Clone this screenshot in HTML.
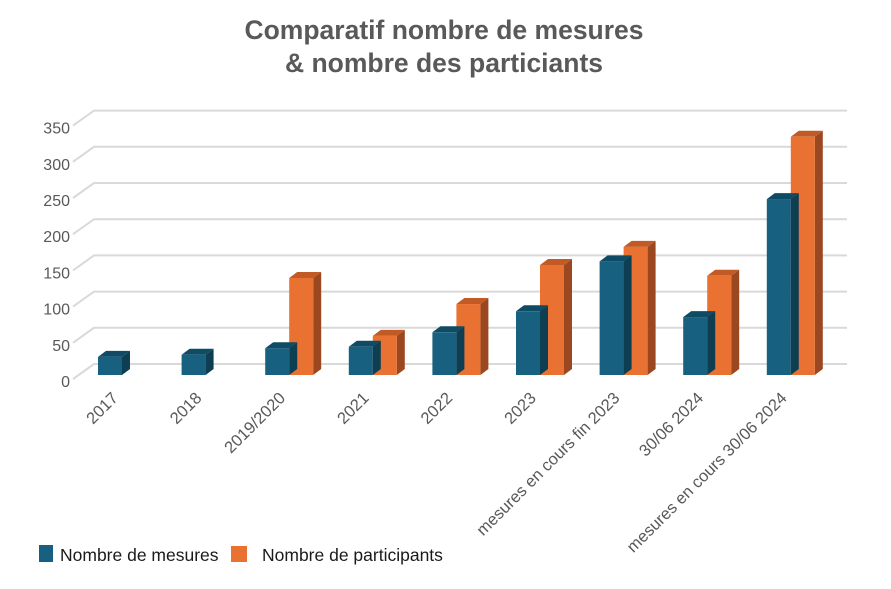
<!DOCTYPE html>
<html><head><meta charset="utf-8"><style>
body{margin:0;background:#fff;width:891px;height:584px;overflow:hidden;font-family:"Liberation Sans",sans-serif}
</style></head><body>
<svg id="c" width="891" height="584" xmlns="http://www.w3.org/2000/svg"></svg>
<script>
const categories=["2017","2018","2019/2020","2021","2022","2023","mesures en cours fin 2023","30/06 2024","mesures en cours 30/06 2024"];
const mesures=[25,28,37,39,59,88,157,80,243];
const participants=[null,null,134,54,98,152,177,137,329];
const ticks=[0,50,100,150,200,250,300,350];
const svg=document.getElementById('c');
const NS='http://www.w3.org/2000/svg';
function mk(t,a,p){const e=document.createElementNS(NS,t);for(const k in a)e.setAttribute(k,a[k]);(p||svg).appendChild(e);return e;}
const base=375, k=0.724, DX=21, DY=15, backBase=364;
function y(v){return base-v*k;}
function yb(v){return backBase-v*k;}
function x(i){return 98+i*83.6;}
const bw=24, ddx=8, ddy=6;
// title
let t=mk('text',{x:444,y:39,'text-anchor':'middle','font-size':26.5,'font-weight':'bold',fill:'#595959'});t.textContent='Comparatif nombre de mesures';


t=mk('text',{x:444,y:72,'text-anchor':'middle','font-size':26.5,'font-weight':'bold',fill:'#595959'});t.textContent='& nombre des particiants';


// gridlines
ticks.forEach(v=>{
  const yy=yb(v);
  const g=mk('polyline',{points:`${73},${yy+DY} ${73+DX},${yy} 847,${yy}`,fill:'none',stroke:'#d9d9d9','stroke-width':2});
  
  
  const l=mk('text',{x:70,y:yy+DY+8,'text-anchor':'end','font-size':16,fill:'#595959'});l.textContent=v;
  
  
});
function bar(x0,v,c,name){
  const g=mk('g',{});
  
  
  const top=y(v);
  mk('polygon',{points:`${x0+bw},${top} ${x0+bw+ddx},${top-ddy} ${x0+bw+ddx},${base-ddy} ${x0+bw},${base}`,fill:c[2]},g);
  mk('polygon',{points:`${x0},${top} ${x0+ddx},${top-ddy} ${x0+bw+ddx},${top-ddy} ${x0+bw},${top}`,fill:c[1]},g);
  mk('rect',{x:x0,y:top,width:bw,height:base-top,fill:c[0]},g);
}
const cB=['#17607f','#0f4b64','#0d3e52'], cO=['#e97132','#c25a25','#9b4820'];
categories.forEach((c,i)=>{
  if(participants[i]!=null) bar(x(i)+bw,participants[i],cO,'bar-participants-'+i);
  if(mesures[i]!=null) bar(x(i),mesures[i],cB,'bar-mesures-'+i);
  const cx=x(i)+bw-3;
  const l=mk('text',{x:cx,y:399,'text-anchor':'end','font-size':16.5,fill:'#595959',transform:`rotate(-45 ${cx} 399)`});
  l.textContent=c;
  
  
});
// legend
let r=mk('rect',{x:39,y:545,width:14,height:17,fill:'#17607f'});


t=mk('text',{x:60,y:561,'font-size':17.5,fill:'#1a1a1a'});t.textContent='Nombre de mesures';


r=mk('rect',{x:231,y:546,width:16,height:16,fill:'#e97132'});


t=mk('text',{x:262,y:561,'font-size':17.5,fill:'#1a1a1a'});t.textContent='Nombre de participants';


</script>
</body></html>
